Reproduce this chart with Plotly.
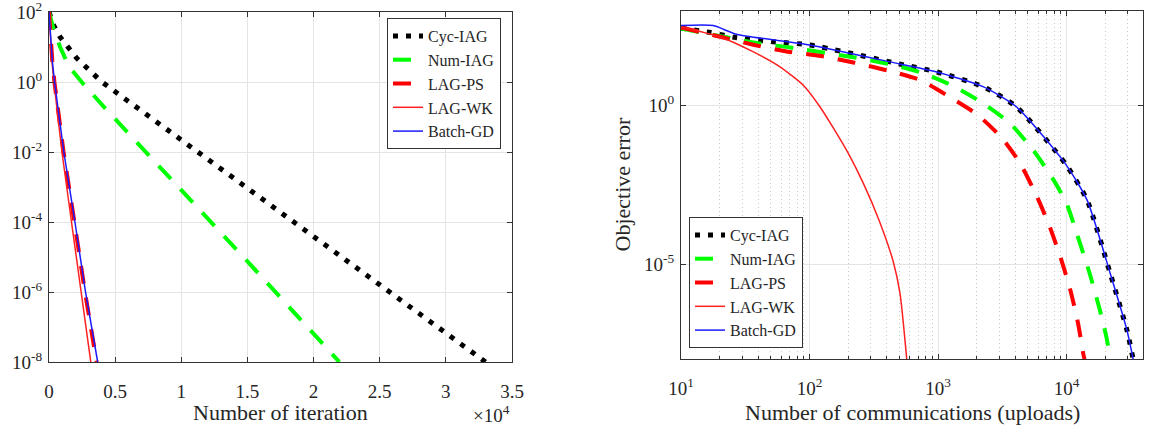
import plotly.graph_objects as go

W, H = 1155, 426
FONT = "Liberation Serif"
TXT = "#262626"

# ---------------- data: left panel (objective error vs. iterations) ----------------
series_names = ["Cyc-IAG", "Num-IAG", "LAG-PS", "LAG-WK", "Batch-GD"]

iter_cyc_x = [0, 150, 325, 830, 2090, 4000, 7640, 24900, 33000]
iter_cyc_y = [1e2, 71, 43, 19.5, 4.8, 1.0, 0.1, 1.7e-6, 1e-8]
iter_num_x = [0, 325, 832, 1500, 2470, 4230, 14800, 21950]
iter_num_y = [1e2, 35, 10.2, 2.8, 1.0, 0.18, 9.1e-6, 1e-8]
iter_ps_x = [0, 100, 250, 410, 1100, 1920, 2720, 3600]
iter_ps_y = [1e2, 20, 4, 1, 1e-2, 1e-4, 1e-6, 1e-8]
iter_wk_x = [0, 90, 220, 370, 980, 1700, 2420, 3160]
iter_wk_y = [1e2, 20, 4, 1, 1e-2, 1e-4, 1e-6, 1e-8]
iter_gd_x = [0, 100, 250, 420, 1120, 1960, 2760, 3680]
iter_gd_y = [1e2, 20, 4, 1, 1e-2, 1e-4, 1e-6, 1e-8]

# ---------------- data: right panel (objective error vs. communications) ----------------
comm_cyc_x = [10, 17, 26, 52, 100, 501, 977, 2239, 4074, 9772, 14454, 21878, 29512, 33000]
comm_cyc_y = [282, 204, 145, 105, 83, 20.9, 11.7, 4.0, 0.93, 0.015, 1.05e-3, 5.1e-6, 8.3e-8, 1e-8]
comm_num_x = [10, 40.7, 70.8, 245, 447, 776, 1349, 2239, 3631, 5495, 7943, 10000, 12023, 15136, 18197, 20417, 21950]
comm_num_y = [275, 93, 69, 31.6, 19.5, 10.5, 3.98, 1.2, 0.28, 0.04, 4.5e-3, 8.3e-4, 9.3e-5, 5.1e-6, 3.5e-7, 5.1e-8, 1e-8]
comm_ps_x = [10, 20.9, 37.2, 67.6, 123, 224, 407, 724, 1230, 2042, 3162, 4365, 5888, 7413, 9120, 10715, 12303, 13490, 13800]
comm_ps_y = [295, 145, 83, 51, 37, 22.9, 12.9, 6.5, 1.9, 0.51, 0.093, 0.015, 1.35e-3, 1.5e-4, 1.35e-5, 1.5e-6, 1.35e-7, 1.5e-8, 1e-8]
comm_wk_x = [10, 20, 36.3, 58.9, 89.1, 119, 151, 200, 263, 347, 447, 506, 571]
comm_wk_y = [309, 151, 51, 17, 4.5, 1.0, 0.22, 0.032, 3.5e-3, 2.5e-4, 1.26e-5, 1.2e-6, 1e-8]
comm_gd_x = [10, 17.8, 26.9, 100, 501, 977, 2239, 4074, 9772, 14454, 21878, 29512, 33000]
comm_gd_y = [339, 339, 182, 83, 20.9, 11.7, 4.0, 0.93, 0.015, 1.05e-3, 5.1e-6, 8.3e-8, 1e-8]

# ---------------- ticks ----------------
left_xtick_vals = [0, 5000, 10000, 15000, 20000, 25000, 30000, 35000]
left_xtick_text = ["0", "0.5", "1", "1.5", "2", "2.5", "3", "3.5"]
left_ytick_vals = [1e-8, 1e-6, 1e-4, 1e-2, 1e0, 1e2]
left_ytick_text = ["10<sup>-8</sup>", "10<sup>-6</sup>", "10<sup>-4</sup>", "10<sup>-2</sup>",
                   "10<sup>0</sup>", "10<sup>2</sup>"]
right_xtick_vals = [1e1, 1e2, 1e3, 1e4]
right_xtick_text = ["10<sup>1</sup>", "10<sup>2</sup>", "10<sup>3</sup>", "10<sup>4</sup>"]
right_ytick_vals = [1e-5, 1e0]
right_ytick_text = ["10<sup>-5</sup>", "10<sup>0</sup>"]

# ---------------- styles ----------------
styles = [
    dict(color="#000000", width=5, dash="5px,8px"),
    dict(color="#00ff00", width=4, dash="18px,14px"),
    dict(color="#ff0000", width=4, dash="18px,14px"),
    dict(color="#ff2020", width=1.5, dash="solid"),
    dict(color="#1a1aff", width=1.5, dash="solid"),
]

fig = go.Figure()
left_data = [(iter_cyc_x, iter_cyc_y), (iter_num_x, iter_num_y), (iter_ps_x, iter_ps_y),
             (iter_wk_x, iter_wk_y), (iter_gd_x, iter_gd_y)]
right_data = [(comm_cyc_x, comm_cyc_y), (comm_num_x, comm_num_y), (comm_ps_x, comm_ps_y),
              (comm_wk_x, comm_wk_y), (comm_gd_x, comm_gd_y)]

for name, (x, y), st in zip(series_names, left_data, styles):
    fig.add_trace(go.Scatter(x=x, y=y, mode="lines", name=name, line=st,
                             xaxis="x", yaxis="y", legend="legend"))
for name, (x, y), st in zip(series_names, right_data, styles):
    fig.add_trace(go.Scatter(x=x, y=y, mode="lines", name=name,
                             line=dict(st, shape="spline", smoothing=0.6),
                             xaxis="x2", yaxis="y2", legend="legend2"))

# pixel-based domains
def px_x(a, b):
    return [a / W, b / W]

def px_y(top, bottom):
    return [(H - bottom) / H, (H - top) / H]

axis_common = dict(showline=True, linecolor="#333333", linewidth=1.2, mirror="ticks",
                   ticks="inside", ticklen=5, tickcolor="#333333", automargin=False,
                   ticklabeloverflow="allow",
                   showgrid=True, gridcolor="#e4e4e4", gridwidth=1, zeroline=False,
                   tickfont=dict(family=FONT, size=19, color=TXT))

fig.update_layout(
    width=W, height=H, margin=dict(l=0, r=0, t=0, b=0, autoexpand=False),
    paper_bgcolor="white", plot_bgcolor="white",
    font=dict(family=FONT, color=TXT),
    xaxis=dict(domain=px_x(49, 512), range=[0, 35000], tickmode="array",
               tickvals=left_xtick_vals, ticktext=left_xtick_text, anchor="y",
               ticklabelstandoff=12, **axis_common),
    yaxis=dict(domain=px_y(12, 362), type="log", range=[-8, 2], tickmode="array",
               tickvals=left_ytick_vals, ticktext=left_ytick_text, anchor="x",
               ticklabelstandoff=2, **axis_common),
    xaxis2=dict(domain=px_x(681, 1143), type="log", range=[1, 4.595], tickmode="array",
                tickvals=right_xtick_vals, ticktext=right_xtick_text, anchor="y2",
                ticklabelstandoff=12,
                minor=dict(ticks="inside", ticklen=3, tickcolor="#333333", dtick="D1",
                           showgrid=True, gridcolor="#c8c8c8", griddash="1px,3px", gridwidth=1),
                **axis_common),
    yaxis2=dict(domain=px_y(10.7, 359.3), type="log", range=[-8, 3], tickmode="array",
                tickvals=right_ytick_vals, ticktext=right_ytick_text, anchor="x2",
                ticklabelstandoff=2, **axis_common),
    legend=dict(x=501 / W, xanchor="right", y=(H - 18) / H, yanchor="top",
                bgcolor="white", bordercolor="#333333", borderwidth=1,
                font=dict(family=FONT, size=16, color=TXT), tracegroupgap=0),
    legend2=dict(x=689 / W, xanchor="left", y=(H - 348) / H, yanchor="bottom",
                 bgcolor="white", bordercolor="#333333", borderwidth=1,
                 font=dict(family=FONT, size=16, color=TXT), tracegroupgap=0),
    showlegend=True,
)

annots = [
    dict(text="Number of iteration", x=280.5 / W, y=(H - 412) / H, xref="paper", yref="paper",
         xanchor="center", yanchor="middle", showarrow=False,
         font=dict(family=FONT, size=22, color=TXT)),
    dict(text="\u00d710<sup>4</sup>", x=512 / W, y=(H - 414) / H, xref="paper", yref="paper",
         xanchor="right", yanchor="middle", showarrow=False,
         font=dict(family=FONT, size=19, color=TXT)),
    dict(text="Number of communications (uploads)", x=912 / W, y=(H - 412) / H,
         xref="paper", yref="paper", xanchor="center", yanchor="middle", showarrow=False,
         font=dict(family=FONT, size=22, color=TXT)),
    dict(text="Objective error", x=636 / W, y=(H - 185) / H, xref="paper", yref="paper",
         xanchor="right", yanchor="middle", textangle=-90, showarrow=False,
         font=dict(family=FONT, size=22, color=TXT)),
    dict(text="Objective error", x=-10 / W, y=(H - 187) / H, xref="paper", yref="paper",
         xanchor="right", yanchor="middle", textangle=-90, showarrow=False,
         font=dict(family=FONT, size=22, color=TXT)),
]
fig.update_layout(annotations=annots)

fig.write_html("out.html")
